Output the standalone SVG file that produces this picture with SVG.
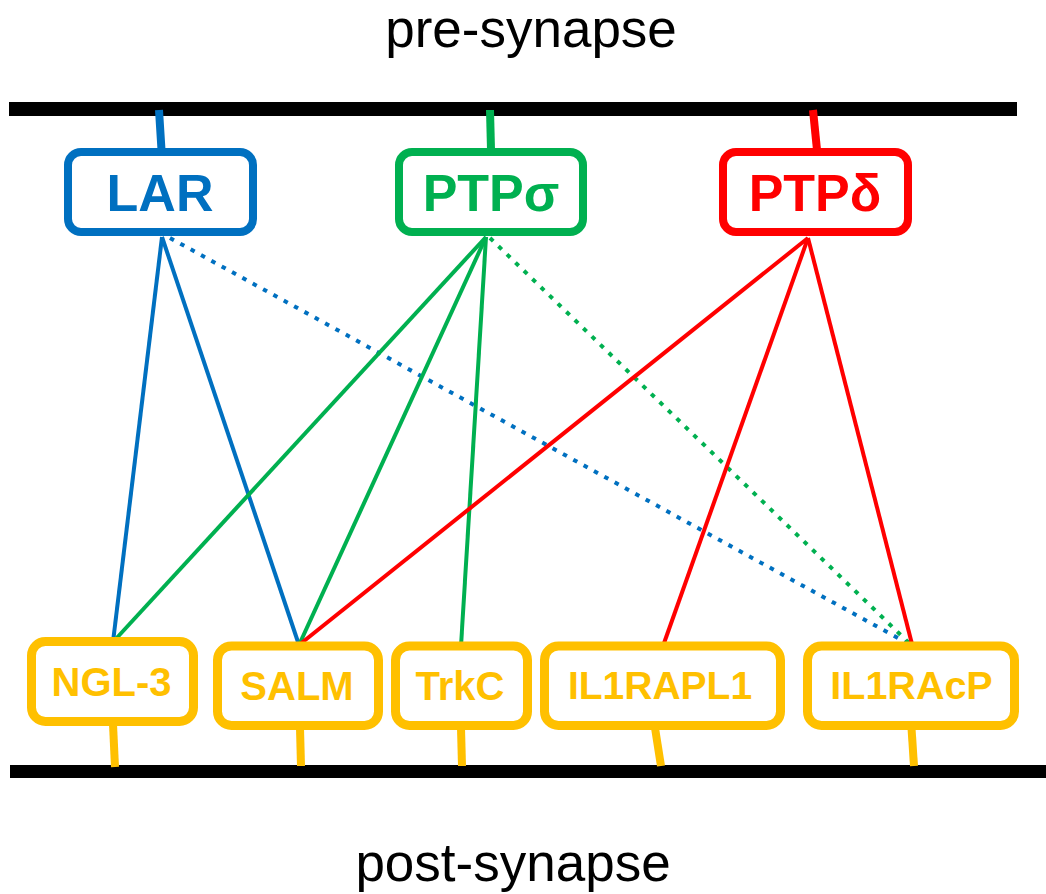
<svg xmlns="http://www.w3.org/2000/svg" width="1046" height="894" viewBox="0 0 1046 894">
<style>
.t{font-family:"Liberation Sans",Arial,sans-serif;text-anchor:middle}
.big{font-size:52px;font-weight:bold}
.small{font-size:40px;font-weight:bold;fill:#FFC000}
.lbl{font-size:53px;fill:#000}
.box{fill:#fff;stroke-width:8}
.pbox{fill:#fff;stroke:#FFC000;stroke-width:9}
.stub{stroke-width:8;fill:none}
.ln{stroke-width:4;fill:none}
.dot{stroke-width:4;fill:none;stroke-dasharray:4.5 7.3}
.blue{stroke:#0070C0}
.green{stroke:#00B050}
.red{stroke:#FF0000}
.yel{stroke:#FFC000}
</style>
<rect width="1046" height="894" fill="#fff"/>
<text class="t lbl" x="531" y="47">pre-synapse</text>
<text class="t lbl" x="513" y="881">post-synapse</text>
<g id="membranes">
<rect x="9" y="102" width="1008" height="14" fill="#000"/>
<rect x="10" y="765" width="1036" height="13" fill="#000"/>
</g>
<g id="connectors">
<line class="ln blue" x1="162" y1="237" x2="113" y2="642"/>
<line class="ln blue" x1="162" y1="237" x2="299" y2="645"/>
<line class="dot blue" x1="170" y1="238" x2="907" y2="643"/>
<line class="ln green" x1="486" y1="237" x2="113" y2="642"/>
<line class="ln green" x1="486" y1="237" x2="299" y2="645"/>
<line class="ln green" x1="486" y1="237" x2="461" y2="646"/>
<line class="dot green" x1="490" y1="238" x2="909" y2="643"/>
<line class="ln red" x1="808" y1="238" x2="299" y2="645"/>
<line class="ln red" x1="808" y1="238" x2="663" y2="646"/>
<line class="ln red" x1="808" y1="238" x2="912" y2="644"/>
</g>
<g id="LAR">
<line class="stub blue" x1="159" y1="110" x2="161.5" y2="150"/>
<rect class="box blue" x="68" y="152" width="185" height="80" rx="13"/>
<text class="t big" x="160" y="211" fill="#0070C0">LAR</text>
</g>
<g id="PTPsigma">
<line class="stub green" x1="490" y1="110" x2="491" y2="150"/>
<rect class="box green" x="399" y="152" width="184" height="80" rx="13"/>
<text class="t big" x="491" y="211" fill="#00B050">PTPσ</text>
</g>
<g id="PTPdelta">
<line class="stub red" x1="813" y1="110" x2="817" y2="150"/>
<rect class="box red" x="723" y="152" width="185" height="80" rx="13"/>
<text class="t big" x="815" y="211" fill="#FF0000">PTPδ</text>
</g>
<g id="NGL-3">
<line class="stub yel" x1="113" y1="724" x2="115" y2="767"/>
<rect class="pbox" x="31.5" y="641.5" width="162" height="80" rx="14"/>
<text class="t small" x="111.5" y="696">NGL-3</text>
</g>
<g id="SALM">
<line class="stub yel" x1="300" y1="728" x2="301" y2="766"/>
<rect class="pbox" x="217.5" y="646" width="161" height="79.5" rx="14"/>
<text class="t small" x="297" y="700">SALM</text>
</g>
<g id="TrkC">
<line class="stub yel" x1="461" y1="728" x2="462" y2="766"/>
<rect class="pbox" x="395.5" y="646" width="132" height="79.5" rx="14"/>
<text class="t small" x="460" y="700">TrkC</text>
</g>
<g id="IL1RAPL1">
<line class="stub yel" x1="655" y1="728" x2="661" y2="766"/>
<rect class="pbox" x="544.5" y="646" width="236" height="79.5" rx="14"/>
<text class="t small" x="660" y="699" style="font-size:39px">IL1RAPL1</text>
</g>
<g id="IL1RAcP">
<line class="stub yel" x1="911.5" y1="728" x2="914" y2="766"/>
<rect class="pbox" x="807.5" y="646" width="207" height="79.5" rx="14"/>
<text class="t small" x="911.5" y="699" style="font-size:39.5px">IL1RAcP</text>
</g>
</svg>
